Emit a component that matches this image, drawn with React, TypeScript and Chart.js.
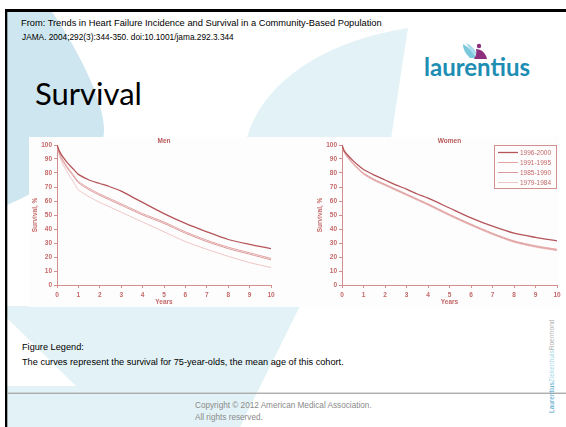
import React, { useEffect, useRef } from 'react';
import { Chart, registerables } from 'chart.js';

Chart.register(...registerables);

// ---- data ----
const YEARS = [0, 0.1, 0.25, 0.5, 0.75, 1, 1.5, 2, 2.5, 3, 3.5, 4, 5, 6, 7, 8, 9, 10];
const COHORTS = ['1996-2000', '1991-1995', '1985-1990', '1979-1984'];

const MEN_1996_2000 = [100, 96, 92, 87, 83, 79, 75, 72.5, 70, 67, 63, 59, 51, 44, 38, 32.5, 29, 26];
const MEN_1991_1995 = [100, 95, 90, 84, 79, 74, 69, 65, 61.5, 58, 54.5, 51, 45, 38, 32, 27, 23, 19];
const MEN_1985_1990 = [100, 94.5, 89, 83, 78, 73, 68, 64, 60.5, 57, 53.5, 50, 44, 37, 31, 26, 22, 18];
const MEN_1979_1984 = [100, 93, 87, 80, 74, 68, 63, 59, 55.5, 52, 48.5, 45, 38, 31, 25.5, 20.5, 16, 12.5];

const WOMEN_1996_2000 = [100, 96, 93, 89, 85.5, 82.5, 78.5, 75, 71.5, 68.5, 65, 62, 55, 48, 42, 37, 34, 31.5];
const WOMEN_1991_1995 = [100, 95.5, 92, 87.5, 83.5, 80, 75.5, 72, 68.5, 65, 61.5, 58, 50.5, 43.5, 37, 31.5, 28, 25.5];
const WOMEN_1985_1990 = [100, 95, 91.5, 87, 83, 79.5, 75, 71.5, 68, 64.5, 61, 57.5, 50, 43, 36.5, 31, 27.5, 25];
const WOMEN_1979_1984 = [100, 95, 91, 86.5, 82.5, 79, 74.5, 71, 67.5, 64, 60.5, 57, 49.5, 42.5, 36, 30.5, 27, 24.5];

const X_TICKS = [0, 1, 2, 3, 4, 5, 6, 7, 8, 9, 10];
const Y_TICKS = [0, 10, 20, 30, 40, 50, 60, 70, 80, 90, 100];

// ---- styles ----
const FONT = '"Liberation Sans", Arial, sans-serif';
const AXIS_COLOR = '#d38e8e';
const TICK_COLOR = '#c46868';
const TITLE_COLOR = '#b85858';
const SERIES_COLORS = ['#b4555a', '#e2a2a2', '#dc9a9a', '#efc5c5'];
const SERIES_WIDTHS = [1.3, 1, 1, 1];

const panelPlugin = {
  id: 'panel',
  afterDraw(chart: any, _args: any, opts: any) {
    const { ctx, chartArea } = chart;
    ctx.save();
    ctx.fillStyle = TITLE_COLOR;
    ctx.font = `bold 6.5px ${FONT}`;
    ctx.textAlign = 'center';
    ctx.textBaseline = 'middle';
    ctx.fillText(opts.title, (chartArea.left + chartArea.right) / 2, chartArea.top - 4);
    if (opts.legend) {
      const right = chartArea.right;
      const top = chartArea.top;
      const w = 63;
      const h = 43;
      ctx.fillStyle = '#fdfdfd';
      ctx.fillRect(right - w, top, w, h);
      ctx.strokeStyle = AXIS_COLOR;
      ctx.lineWidth = 1;
      ctx.strokeRect(right - w + 0.5, top + 0.5, w - 1, h);
      chart.data.datasets.forEach((ds: any, i: number) => {
        const y = top + 7.5 + i * 10;
        ctx.strokeStyle = ds.borderColor;
        ctx.lineWidth = ds.borderWidth;
        ctx.beginPath();
        ctx.moveTo(right - 59, y);
        ctx.lineTo(right - 39, y);
        ctx.stroke();
        ctx.fillStyle = TICK_COLOR;
        ctx.font = `6.5px ${FONT}`;
        ctx.textAlign = 'left';
        ctx.textBaseline = 'middle';
        ctx.fillText(ds.label, right - 37, y + 0.5);
      });
    }
    ctx.restore();
  },
};

type Props = {
  title: string;
  series: number[][];
  legend: boolean;
  left: number;
  width: number;
  padRight: number;
};

function SurvivalChart({ title, series, legend, left, width, padRight }: Props) {
  const ref = useRef<HTMLCanvasElement>(null);
  useEffect(() => {
    const chart = new Chart(ref.current as HTMLCanvasElement, {
      type: 'line',
      data: {
        datasets: series.map((s, i) => ({
          label: COHORTS[i],
          data: YEARS.map((x, j) => ({ x, y: s[j] })),
          borderColor: SERIES_COLORS[i],
          borderWidth: SERIES_WIDTHS[i],
          pointRadius: 0,
          tension: 0.25,
          fill: false,
        })),
      },
      options: {
        responsive: false,
        animation: false,
        devicePixelRatio: 1,
        layout: { padding: { top: 8, right: padRight, left: 0, bottom: 0 } },
        plugins: {
          legend: { display: false },
          tooltip: { enabled: false },
          title: { display: false },
          panel: { title, legend },
        } as any,
        scales: {
          x: {
            type: 'linear',
            min: 0,
            max: 10,
            afterBuildTicks: (s: any) => {
              s.ticks = X_TICKS.map((v) => ({ value: v }));
            },
            afterFit: (s: any) => {
              s.height = 21;
            },
            ticks: { color: TICK_COLOR, font: { family: FONT, size: 6.5, weight: 'bold' }, padding: 3, maxRotation: 0 },
            grid: { drawOnChartArea: false, drawTicks: true, tickLength: 3, color: AXIS_COLOR },
            border: { color: AXIS_COLOR, width: 1 },
            title: { display: true, text: 'Years', color: TICK_COLOR, font: { family: FONT, size: 6.5, weight: 'bold' }, padding: 0 },
          },
          y: {
            type: 'linear',
            min: 0,
            max: 100,
            afterBuildTicks: (s: any) => {
              s.ticks = Y_TICKS.map((v) => ({ value: v }));
            },
            afterFit: (s: any) => {
              s.width = 27;
            },
            ticks: { color: TICK_COLOR, font: { family: FONT, size: 6.5, weight: 'bold' }, padding: 2 },
            grid: { drawOnChartArea: false, drawTicks: true, tickLength: 3, color: AXIS_COLOR },
            border: { color: AXIS_COLOR, width: 1 },
            title: { display: true, text: 'Survival, %', color: TICK_COLOR, font: { family: FONT, size: 6.5, weight: 'bold' }, padding: { top: 1, bottom: 0 } },
          },
        },
      } as any,
      plugins: [panelPlugin as any],
    });
    return () => chart.destroy();
  }, []);
  return (
    <canvas
      ref={ref}
      width={width}
      height={169}
      style={{ position: 'absolute', left, top: 137, width, height: 169 }}
    />
  );
}

const txt = (extra: React.CSSProperties): React.CSSProperties => ({
  position: 'absolute',
  whiteSpace: 'nowrap',
  fontFamily: FONT,
  ...extra,
});

export default function App() {
  return (
    <div style={{ position: 'fixed', left: 0, top: 0, width: 566, height: 427, overflow: 'hidden', background: '#fff' }}>
      <svg width={566} height={427} style={{ position: 'absolute', left: 0, top: 0 }}>
        <path d="M7 185 L7 427 L240 427 L300 306 L7 306 Z" fill="#e3f2f6" />
        <path d="M7 318 L76 386 L7 386 Z" fill="#ffffff" />
        <path d="M7 12 L52 12 C 85 60, 115 125, 100 145 C 80 170, 40 190, 7 205 Z" fill="#cde6ef" />
        <path d="M245 145 C 258 85, 320 42, 408 28 L 390 145 Z" fill="#e3f2f6" />
        <rect x={29} y={137} width={530} height={170} fill="#fdfdfd" />
        <rect x={5} y={9} width={561} height={3} fill="#000" />
        <rect x={5} y={9} width={2.3} height={418} fill="#000" />
        <rect x={7} y={392.6} width={559} height={1.3} fill="#a6a6a6" />
        {/* logo mark */}
        <path d="M463 44 C 468 47, 474 52, 476 58 L 470 58 C 466 54, 463 50, 463 44 Z" fill="#7cc9de" />
        <path d="M466 43 C 471 45, 475 49, 477 54 L 474 55 C 471 51, 468 47, 466 43 Z" fill="#a9dcea" />
        <circle cx={479} cy={46} r={2.2} fill="#8d2f7d" />
        <path d="M476 49 C 481 49, 486 53, 487 59 L 474 59 C 476 56, 477 52, 476 49 Z" fill="#8d2f7d" />
      </svg>

      <div style={txt({ left: 21, top: 17.5, fontSize: 9.3, lineHeight: '10px', color: '#000' })}>
        From: Trends in Heart Failure Incidence and Survival in a Community-Based Population
      </div>
      <div style={txt({ left: 22, top: 32.5, fontSize: 8.3, lineHeight: '9px', color: '#000' })}>
        JAMA. 2004;292(3):344-350. doi:10.1001/jama.292.3.344
      </div>
      <div style={txt({ left: 35, top: 78, fontSize: 31, lineHeight: '31px', color: '#000', fontFamily: 'Lato, "Open Sans", sans-serif' })}>
        Survival
      </div>
      <div style={txt({ left: 424, top: 55, fontSize: 24, lineHeight: '24px', color: '#1d8db4', fontFamily: 'Lato, "Open Sans", sans-serif', fontWeight: 700 })}>
        laurentius
      </div>

      <SurvivalChart title="Men" series={[MEN_1996_2000, MEN_1991_1995, MEN_1985_1990, MEN_1979_1984]} legend={false} left={30} width={255} padRight={14} />
      <SurvivalChart title="Women" series={[WOMEN_1996_2000, WOMEN_1991_1995, WOMEN_1985_1990, WOMEN_1979_1984]} legend={true} left={315} width={251} padRight={9} />

      <div style={txt({ left: 22, top: 342, fontSize: 9.2, lineHeight: '10px', color: '#000' })}>Figure Legend:</div>
      <div style={txt({ left: 22, top: 357, fontSize: 9.2, lineHeight: '10px', color: '#000' })}>
        The curves represent the survival for 75-year-olds, the mean age of this cohort.
      </div>
      <div style={txt({ left: 195, top: 400.5, fontSize: 8.2, lineHeight: '9px', color: '#8a8a8a' })}>
        Copyright © 2012 American Medical Association.
      </div>
      <div style={txt({ left: 195, top: 412.5, fontSize: 8.2, lineHeight: '9px', color: '#8a8a8a' })}>All rights reserved.</div>

      <div
        style={txt({
          left: 547.5,
          top: 413,
          fontSize: 6.6,
          lineHeight: '7px',
          transform: 'rotate(-90deg)',
          transformOrigin: 'left top',
        })}
      >
        <span style={{ color: '#4aa5cb' }}>Laurentius</span>
        <span style={{ color: '#a6d8e7' }}>Ziekenhuis</span>
        <span style={{ color: '#b3b3b3' }}>Roermond</span>
      </div>
    </div>
  );
}
